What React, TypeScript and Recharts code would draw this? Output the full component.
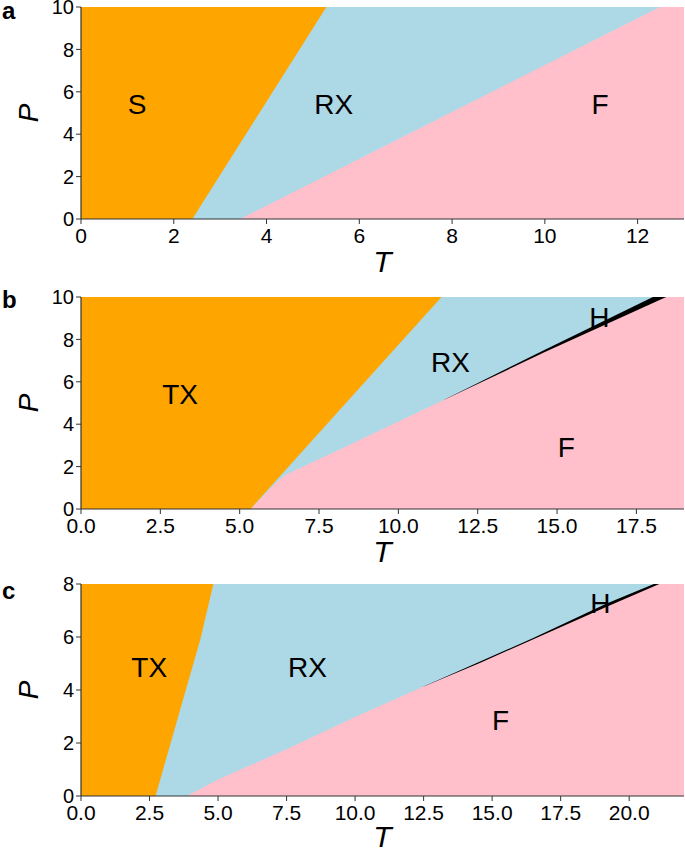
import { ComposedChart, Area, XAxis, YAxis, CartesianGrid, Scatter, Label } from 'recharts';

const FONT = '"Liberation Sans", Arial, Helvetica, sans-serif';

const SOLID = 'orange';
const RX = 'lightblue';
const FLUID = 'pink';
const HEX = 'black';

// panel a
const aTicksT = [0, 2, 4, 6, 8, 10, 12];
const aTicksP = [0, 2, 4, 6, 8, 10];
const aSolidT = [0, 2.4, 5.29];
const aSolidP = [0, 0, 10];
const aFluidT = [3.43, 12.48, 13];
const aFluidP = [0, 10, 10];
const aLabels = [
  { t: 1.21, p: 5.42, text: 'S' },
  { t: 5.45, p: 5.42, text: 'RX' },
  { t: 11.19, p: 5.42, text: 'F' },
];

// panel b
const bTicksT = [0, 2.5, 5, 7.5, 10, 12.5, 15, 17.5];
const bTicksP = [0, 2, 4, 6, 8, 10];
const bSolidT = [0, 5.34, 11.36];
const bSolidP = [0, 0, 10];
const bFluidT = [5.34, 6.14, 6.45, 8.47, 11.46, 14.6, 18.44, 19];
const bFluidP = [0, 1.23, 1.62, 3.03, 5.16, 7.39, 10, 10];
const bHexT = [11.46, 14.6, 18.02, 19];
const bHexP = [5.16, 7.5, 10, 10];
const bLabels = [
  { t: 3.12, p: 5.44, text: 'TX' },
  { t: 11.64, p: 6.92, text: 'RX' },
  { t: 16.33, p: 9.05, text: 'H' },
  { t: 15.29, p: 2.91, text: 'F' },
];

// panel c
const cTicksT = [0, 2.5, 5, 7.5, 10, 12.5, 15, 17.5, 20];
const cTicksP = [0, 2, 4, 6, 8];
const cSolidT = [0, 2.72, 3.62, 4.35, 4.83];
const cSolidP = [0, 0, 3.26, 5.9, 8];
const cFluidT = [3.86, 5.0, 7.5, 10, 12.5, 14.55, 19.2, 21.1, 22];
const cFluidP = [0, 0.62, 1.76, 2.98, 4.13, 5.02, 7.15, 8, 8];
const cHexT = [12.5, 16.5, 19.2, 20.9, 22];
const cHexP = [4.13, 5.96, 7.27, 8, 8];
const cLabels = [
  { t: 2.49, p: 4.86, text: 'TX' },
  { t: 8.26, p: 4.86, text: 'RX' },
  { t: 18.95, p: 7.28, text: 'H' },
  { t: 15.31, p: 2.86, text: 'F' },
];

const above = (ts: number[], ps: number[], top: number) => ts.map((t, i) => ({ t, p: [ps[i], top] }));
const below = (ts: number[], ps: number[]) => ts.map((t, i) => ({ t, p: [0, ps[i]] }));

const RegionLabel = (props: any) => {
  const { cx, cy, payload } = props;
  return (
    <text x={cx} y={cy + 10} textAnchor="middle" fontSize={28} fontFamily={FONT} fill="#000">
      {payload.text}
    </text>
  );
};

type Layer = { data: { t: number; p: number[] }[]; color: string };

function Panel({
  top,
  tMax,
  pMax,
  tTicks,
  pTicks,
  decimals,
  layers,
  labels,
  titleGap,
}: {
  top: number;
  tMax: number;
  pMax: number;
  tTicks: number[];
  pTicks: number[];
  decimals: number;
  layers: Layer[];
  labels: { t: number; p: number; text: string }[];
  titleGap: number;
}) {
  return (
    <div style={{ position: 'absolute', left: 0, top }}>
      <ComposedChart width={685} height={304} margin={{ top: 22, right: 1, bottom: 0, left: 0 }}>
        <CartesianGrid horizontal={false} vertical={false} fill={RX} stroke="none" />
        {layers.map((l, i) => (
          <Area
            key={i}
            data={l.data}
            dataKey="p"
            type="linear"
            stroke="none"
            fill={l.color}
            fillOpacity={1}
            dot={false}
            activeDot={false}
            isAnimationActive={false}
          />
        ))}
        <XAxis
          type="number"
          dataKey="t"
          domain={[0, tMax]}
          ticks={tTicks}
          interval={0}
          allowDataOverflow
          height={70}
          tickSize={5}
          tickMargin={4}
          tickFormatter={(v: number) => v.toFixed(decimals)}
          axisLine={{ stroke: '#333', strokeWidth: 1.2 }}
          tickLine={{ stroke: '#333' }}
          tick={{ fill: '#000', fontSize: 21, fontFamily: FONT }}
        >
          <Label
            content={(props: any) => {
              const vb = props.viewBox;
              return (
                <text x={vb.x + vb.width / 2} y={vb.y + titleGap} textAnchor="middle" fontStyle="italic" fontSize={30} fontFamily={FONT} fill="#000">
                  T
                </text>
              );
            }}
          />
        </XAxis>
        <YAxis
          type="number"
          dataKey="p"
          domain={[0, pMax]}
          ticks={pTicks}
          interval={0}
          allowDataOverflow
          width={81}
          tickSize={5}
          tickMargin={2}
          axisLine={{ stroke: '#333', strokeWidth: 1.2 }}
          tickLine={{ stroke: '#333' }}
          tick={{ fill: '#000', fontSize: 20, fontFamily: FONT }}
        >
          <Label
            content={(props: any) => {
              const vb = props.viewBox;
              const cy = vb.y + vb.height / 2;
              return (
                <text x={38} y={cy} transform={`rotate(-90, 38, ${cy})`} textAnchor="middle" fontStyle="italic" fontSize={28} fontFamily={FONT} fill="#000">
                  P
                </text>
              );
            }}
          />
        </YAxis>
        <XAxis xAxisId="top" orientation="top" type="number" domain={[0, tMax]} allowDataOverflow height={0} tick={false} tickLine={false} axisLine={{ stroke: '#333', strokeWidth: 1.2 }} />
        <YAxis yAxisId="right" orientation="right" type="number" domain={[0, pMax]} allowDataOverflow width={0} tick={false} tickLine={false} axisLine={{ stroke: '#333', strokeWidth: 1.2 }} />
        <Scatter data={labels} shape={RegionLabel} isAnimationActive={false} />
      </ComposedChart>
    </div>
  );
}

export default function App() {
  return (
    <div style={{ position: 'absolute', left: 0, top: 0, width: 685, height: 849, overflow: 'hidden', background: '#fff' }}>
      <Panel
        top={-15}
        tMax={13}
        pMax={10}
        tTicks={aTicksT}
        pTicks={aTicksP}
        decimals={0}
        titleGap={53}
        layers={[
          { data: below(aFluidT, aFluidP), color: FLUID },
          { data: above(aSolidT, aSolidP, 10), color: SOLID },
        ]}
        labels={aLabels}
      />
      <Panel
        top={275}
        tMax={19}
        pMax={10}
        tTicks={bTicksT}
        pTicks={bTicksP}
        decimals={1}
        titleGap={53}
        layers={[
          { data: below(bHexT, bHexP), color: HEX },
          { data: below(bFluidT, bFluidP), color: FLUID },
          { data: above(bSolidT, bSolidP, 10), color: SOLID },
        ]}
        labels={bLabels}
      />
      <Panel
        top={562}
        tMax={22}
        pMax={8}
        tTicks={cTicksT}
        pTicks={cTicksP}
        decimals={1}
        titleGap={51}
        layers={[
          { data: below(cHexT, cHexP), color: HEX },
          { data: below(cFluidT, cFluidP), color: FLUID },
          { data: above(cSolidT, cSolidP, 8), color: SOLID },
        ]}
        labels={cLabels}
      />
      <svg width={685} height={849} style={{ position: 'absolute', left: 0, top: 0, pointerEvents: 'none' }}>
        <text x={2} y={18.5} fontSize={24} fontWeight="bold" fontFamily={FONT}>a</text>
        <text x={2} y={307.5} fontSize={24} fontWeight="bold" fontFamily={FONT}>b</text>
        <text x={2} y={598.5} fontSize={24} fontWeight="bold" fontFamily={FONT}>c</text>
      </svg>
    </div>
  );
}
